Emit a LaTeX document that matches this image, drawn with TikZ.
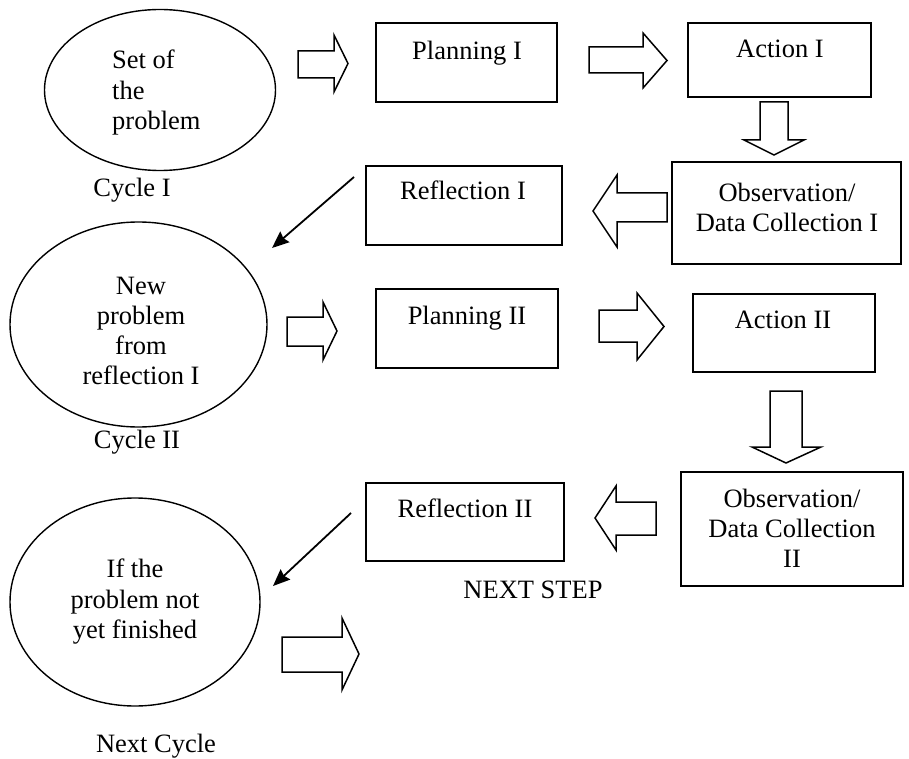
\documentclass[tikz,border=0pt]{standalone}
\usepackage{fontspec}
\setmainfont{Liberation Serif}
\usetikzlibrary{shapes.geometric,arrows.meta}
\begin{document}
\begin{tikzpicture}[x=1pt,y=-1pt,
  box/.style={draw, line width=1.5pt, inner sep=0pt, rectangle},
  oval/.style={draw, ellipse, line width=1.4pt, inner sep=0pt},
  txt/.style={font=\fontsize{26.5}{30}\selectfont, inner sep=0pt, anchor=base},
  blk/.style={draw, line width=1.5pt, line join=miter, fill=white},
  link/.style={line width=1.8pt, -{Stealth[length=17pt,width=14pt,inset=2pt]}}]
\useasboundingbox (0,0) rectangle (909,759);

% ellipses
\node[oval, minimum width=231pt, minimum height=161pt] (e1) at (160,90) {};
\node[oval, minimum width=257pt, minimum height=205pt] (e2) at (138.5,324.5) {};
\node[oval, minimum width=250pt, minimum height=208pt] (e3) at (135,602) {};

% boxes
\node[box, minimum width=181pt, minimum height=79pt] (p1) at (466.5,62.5) {};
\node[box, minimum width=183pt, minimum height=74pt] (a1) at (779.5,60) {};
\node[box, minimum width=229pt, minimum height=102pt] (o1) at (786.5,213) {};
\node[box, minimum width=196pt, minimum height=79pt] (r1) at (464,205.5) {};
\node[box, minimum width=182pt, minimum height=79pt] (p2) at (467,328.5) {};
\node[box, minimum width=182pt, minimum height=78pt] (a2) at (784,333) {};
\node[box, minimum width=222pt, minimum height=114pt] (o2) at (792,529) {};
\node[box, minimum width=198pt, minimum height=78pt] (r2) at (465,522) {};

% texts
\node[txt, anchor=base west] (t1a) at (112,69) {Set of};
\node[txt, anchor=base west] (t1b) at (112,100) {the};
\node[txt, anchor=base west] (t1c) at (112,130) {problem};
\node[txt] (c1) at (132,197) {Cycle I};

\node[txt] (t2a) at (141,294) {New};
\node[txt] (t2b) at (141,324) {problem};
\node[txt] (t2c) at (141,354) {from};
\node[txt] (t2d) at (141,384) {reflection I};
\node[txt] (c2) at (137,448) {Cycle II};

\node[txt] (t3a) at (135,577) {If the};
\node[txt] (t3b) at (135,608) {problem not};
\node[txt] (t3c) at (135,638) {yet finished};
\node[txt] (c3) at (156,752) {Next Cycle};

\node[txt] (tp1) at (467,60) {Planning I};
\node[txt] (ta1) at (780,58) {Action I};
\node[txt] (to1a) at (787,202) {Observation/};
\node[txt] (to1b) at (787,231) {Data Collection I};
\node[txt] (tr1) at (463,200) {Reflection I};

\node[txt] (tp2) at (467,324) {Planning II};
\node[txt] (ta2) at (783,328) {Action II};
\node[txt] (to2a) at (792,507) {Observation/};
\node[txt] (to2b) at (792,537) {Data Collection};
\node[txt] (to2c) at (792,567) {II};
\node[txt] (tr2) at (465,517) {Reflection II};
\node[txt] (ns) at (533,598) {NEXT STEP};

% block arrows (right)
\draw[blk] (298,51) -- (334,51) -- (334,35) -- (348,63.5) -- (334,92) -- (334,78) -- (298,78) -- cycle;
\draw[blk] (589,47) -- (643,47) -- (643,33) -- (667,60.5) -- (643,88) -- (643,73) -- (589,73) -- cycle;
\draw[blk] (287,317) -- (323,317) -- (323,302) -- (337,331) -- (323,360) -- (323,346) -- (287,346) -- cycle;
\draw[blk] (599,310) -- (637,310) -- (637,293) -- (664,326.5) -- (637,360) -- (637,342) -- (599,342) -- cycle;
\draw[blk] (282,637) -- (342,637) -- (342,618) -- (359,654) -- (342,690) -- (342,672) -- (282,672) -- cycle;
% block arrows (down)
\draw[blk] (760,102) -- (760,140) -- (744,140) -- (774,155) -- (804,140) -- (788,140) -- (788,102) -- cycle;
\draw[blk] (770,391) -- (770,447) -- (752,447) -- (786,463) -- (821,447) -- (802,447) -- (802,391) -- cycle;
% block arrows (left)
\draw[blk] (667,193) -- (617,193) -- (617,175) -- (593,211) -- (617,247) -- (617,222) -- (667,222) -- cycle;
\draw[blk] (656,502) -- (616,502) -- (616,486) -- (595,518) -- (616,550) -- (616,535) -- (656,535) -- cycle;

% diagonal connectors
\coordinate (d1s) at (354,177);
\coordinate (d1e) at (272,248);
\coordinate (d2s) at (351,513);
\coordinate (d2e) at (273,586);
\draw[link] (d1s) -- (d1e);
\draw[link] (d2s) -- (d2e);
\end{tikzpicture}
\end{document}
